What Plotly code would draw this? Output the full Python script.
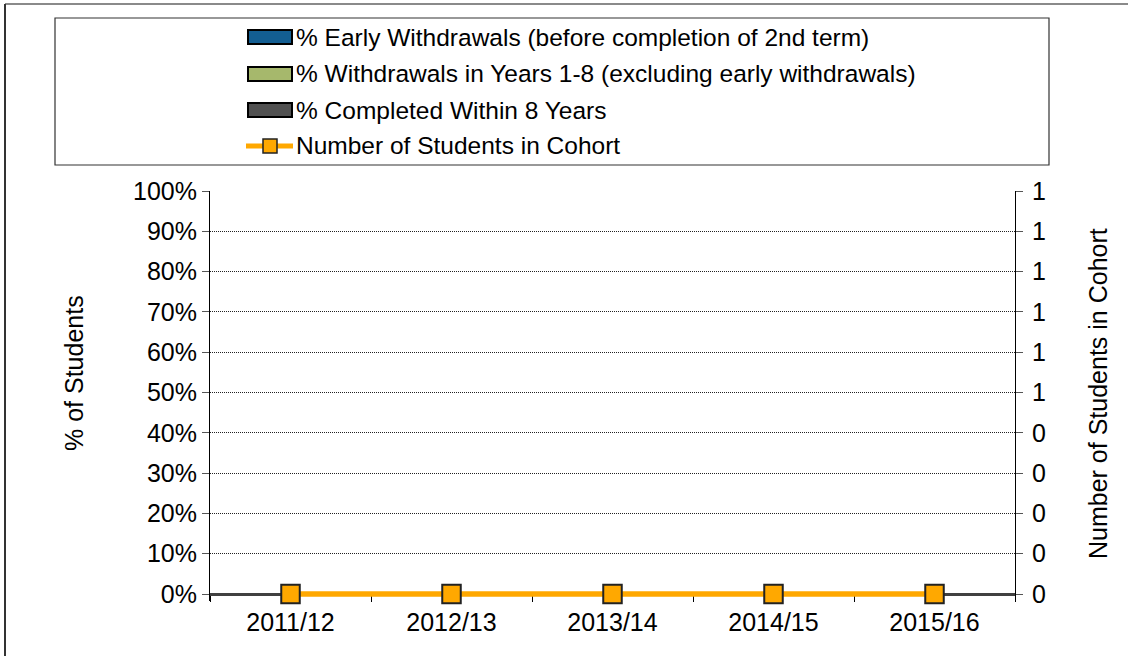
import plotly.graph_objects as go

# ---------------- data ----------------
categories = ["2011/12", "2012/13", "2013/14", "2014/15", "2015/16"]
early_withdrawals = [0, 0, 0, 0, 0]
withdrawals_years_1_8 = [0, 0, 0, 0, 0]
completed_within_8 = [0, 0, 0, 0, 0]
students_in_cohort = [0, 0, 0, 0, 0]

series_names = [
    "% Early Withdrawals (before completion of 2nd term)",
    "% Withdrawals in Years 1-8 (excluding early withdrawals)",
    "% Completed Within 8 Years",
    "Number of Students in Cohort",
]
left_tick_values = [0, 0.1, 0.2, 0.3, 0.4, 0.5, 0.6, 0.7, 0.8, 0.9, 1.0]
left_tick_labels = ["0%", "10%", "20%", "30%", "40%", "50%", "60%", "70%", "80%", "90%", "100%"]
right_tick_values = [0, 0.1, 0.2, 0.3, 0.4, 0.5, 0.6, 0.7, 0.8, 0.9, 1.0]
right_tick_labels = ["0", "0", "0", "0", "0", "1", "1", "1", "1", "1", "1"]
left_title = "% of Students"
right_title = "Number of Students in Cohort"

# ---------------- styles ----------------
FONT = "Arial, 'Liberation Sans', sans-serif"
FS = 25
FS_LEG = 24.5
bar_colors = ["#135E92", "#A6B86C", "#505050"]
line_color = "#FFA800"

W, H = 1128, 656
L, R, T, ZERO = 210, 1015, 191, 594
EXTRA = 7                      # plot area extends a little below the zero line
B = ZERO + EXTRA
y_lo = -EXTRA / (ZERO - T)     # axis value at the bottom of the plot area


def px(x):
    return (x - L) / (R - L)


def py(y):
    return (B - y) / (B - T)


fig = go.Figure()
for vals, name, col in zip([early_withdrawals, withdrawals_years_1_8, completed_within_8],
                           series_names[:3], bar_colors):
    fig.add_trace(go.Bar(x=categories, y=vals, name=name, marker_color=col,
                         marker_line_width=0, yaxis="y", showlegend=False))

fig.add_trace(go.Scatter(x=categories, y=students_in_cohort, name=series_names[3],
                         yaxis="y2", mode="lines+markers", cliponaxis=False,
                         line=dict(color=line_color, width=5.5),
                         marker=dict(symbol="square", size=18.5, color=line_color,
                                     line=dict(color="#222222", width=2)),
                         showlegend=False))

shapes = []
annotations = []
# outer chart border (left + top visible)
shapes.append(dict(type="line", xref="paper", yref="paper", x0=px(5), x1=px(1135),
                   y0=py(4), y1=py(4), line=dict(color="#8a8a8a", width=2)))
shapes.append(dict(type="line", xref="paper", yref="paper", x0=px(5), x1=px(5),
                   y0=py(4), y1=py(670), line=dict(color="#333333", width=2)))
# legend box
shapes.append(dict(type="rect", xref="paper", yref="paper", x0=px(55), x1=px(1049),
                   y0=py(18), y1=py(165), line=dict(color="#333333", width=1.2),
                   fillcolor="white", layer="below"))
rows = [37, 74, 110, 146]
for i in range(3):
    yc = rows[i]
    shapes.append(dict(type="rect", xref="paper", yref="paper", x0=px(248), x1=px(292),
                       y0=py(yc - 7), y1=py(yc + 7), fillcolor=bar_colors[i],
                       line=dict(color="black", width=2)))
yc = rows[3]
shapes.append(dict(type="line", xref="paper", yref="paper", x0=px(246), x1=px(293),
                   y0=py(yc), y1=py(yc), line=dict(color=line_color, width=5)))
shapes.append(dict(type="rect", xref="paper", yref="paper", x0=px(263), x1=px(277),
                   y0=py(yc - 7), y1=py(yc + 7), fillcolor=line_color,
                   line=dict(color="#222222", width=1.5)))
for name, yc in zip(series_names, rows):
    annotations.append(dict(text=name, xref="paper", yref="paper", x=px(294), y=py(yc),
                            xanchor="left", yanchor="middle", showarrow=False,
                            font=dict(family=FONT, size=FS_LEG, color="black")))
# axis titles
annotations.append(dict(text=left_title, xref="paper", yref="paper", x=px(74), y=py(373),
                        textangle=-90, xanchor="center", yanchor="middle", showarrow=False,
                        font=dict(family=FONT, size=FS, color="black")))
annotations.append(dict(text=right_title, xref="paper", yref="paper", x=px(1098), y=py(394),
                        textangle=-90, xanchor="center", yanchor="middle", showarrow=False,
                        font=dict(family=FONT, size=FS, color="black")))

fig.update_layout(
    width=W, height=H, autosize=False,
    margin=dict(l=L, r=W - R, t=T, b=H - B, pad=0),
    paper_bgcolor="white", plot_bgcolor="white",
    barmode="stack", showlegend=False,
    font=dict(family=FONT, size=FS, color="black"),
    shapes=shapes, annotations=annotations,
    xaxis=dict(type="category", range=[-0.5, 4.5], tickson="boundaries",
               anchor="free", position=py(ZERO),
               ticks="outside", ticklen=6, tickcolor="black", tickwidth=1,
               ticklabelstandoff=5,
               showline=True, linecolor="#404040", linewidth=2.5, layer="below traces",
               showgrid=False, tickfont=dict(family=FONT, size=FS, color="black")),
    yaxis=dict(range=[y_lo, 1], tickvals=left_tick_values, ticktext=left_tick_labels,
               ticks="outside", ticklen=7, tickcolor="#555555", tickwidth=1,
               showline=True, linecolor="black", linewidth=1, layer="below traces",
               showgrid=True, gridcolor="#222222", gridwidth=1, griddash="1px,1px",
               zeroline=False, tickfont=dict(family=FONT, size=FS, color="black")),
    yaxis2=dict(range=[y_lo, 1], tickvals=right_tick_values, ticktext=right_tick_labels,
                overlaying="y", side="right",
                ticks="outside", ticklen=7, tickcolor="#555555", tickwidth=1,
                ticklabelstandoff=4,
                showline=True, linecolor="black", linewidth=1, layer="below traces",
                showgrid=False, zeroline=False,
                tickfont=dict(family=FONT, size=FS, color="black")),
)

fig.write_html("out.html", config={"displayModeBar": False},
               post_script="document.body.style.margin='0px';")
